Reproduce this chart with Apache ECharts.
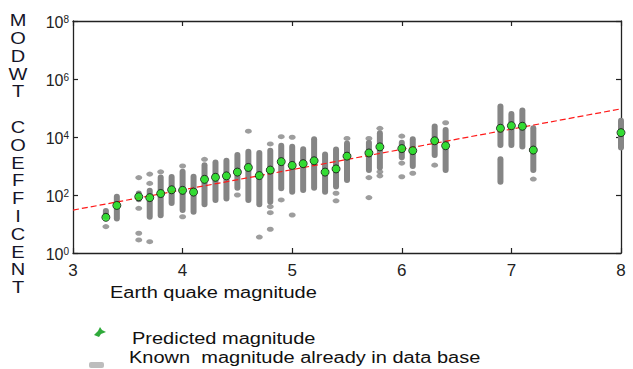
<!DOCTYPE html>
<html>
<head>
<meta charset="utf-8">
<script src="https://cdn.jsdelivr.net/npm/echarts@6/dist/echarts.min.js"></script>
<style>html,body{margin:0;padding:0;background:#fff;overflow:hidden}#c{position:absolute;left:0;top:0;width:633px;height:369px}</style>
</head>
<body>
<div id="c"></div>
<script>
// Predicted magnitude points (x = magnitude, exp = log10 of MODWT coefficient)
const predMag = [3.3,3.4,3.6,3.7,3.8,3.9,4.0,4.1,4.2,4.3,4.4,4.5,4.6,4.7,4.8,4.9,5.0,5.1,5.2,5.3,5.4,5.5,5.7,5.8,6.0,6.1,6.3,6.4,6.9,7.0,7.1,7.2,8.0];
const predExp = [1.23,1.64,1.94,1.91,2.05,2.18,2.16,2.10,2.54,2.61,2.66,2.79,2.95,2.67,2.86,3.15,3.02,3.08,3.18,2.79,2.90,3.34,3.45,3.66,3.60,3.53,3.87,3.70,4.30,4.39,4.37,3.55,4.15];

// Known magnitudes: dense vertical runs of points (low / high exponent)
const segMag = [3.3,3.4,3.6,3.7,3.8,3.9,4.0,4.1,4.2,4.3,4.4,4.5,4.6,4.7,4.8,4.9,5.0,5.1,5.2,5.3,5.4,5.5,5.7,5.8,6.0,6.1,6.3,6.4,6.9,6.9,7.0,7.1,7.2,8.0];
const segLo  = [1.25,1.19,1.85,1.25,1.30,1.72,1.48,1.42,1.68,1.83,1.88,2.25,1.83,1.68,1.77,2.23,2.11,2.17,2.25,2.11,2.29,2.52,2.86,2.95,3.30,3.00,3.38,2.86,3.72,2.46,3.72,3.67,2.86,3.64];
const segHi  = [1.45,1.94,2.05,2.15,2.60,2.62,2.80,2.63,3.03,3.12,3.18,3.38,3.49,3.45,3.53,3.70,3.66,3.58,3.92,3.40,3.57,3.78,3.80,4.13,3.80,3.92,4.36,4.24,5.05,3.23,4.79,4.91,4.30,4.56];

// Known magnitudes: isolated points
const outMag = [3.3,3.6,3.6,3.6,3.6,3.7,3.7,3.7,3.8,4.0,4.0,4.2,4.5,4.6,4.7,4.8,4.8,4.8,4.8,4.9,4.9,5.0,5.0,5.4,5.4,5.5,5.7,5.7,5.7,5.8,5.8,5.8,6.0,6.0,6.0,6.1,6.3,6.4,7.2];
const outExp = [0.91,2.60,1.54,0.68,0.45,2.72,2.40,0.39,2.80,3.00,1.25,3.23,2.00,4.20,0.55,3.76,1.60,1.39,0.82,4.01,1.83,3.99,1.31,2.06,1.80,3.95,3.95,2.60,1.91,4.30,2.80,2.66,4.03,3.10,2.63,2.75,3.03,4.49,2.55];

// Fitted trend line
const fitMag = [3, 8];
const fitExp = [1.48, 4.97];

const xTicks = [3,4,5,6,7,8];
const yTickExp = [0,2,4,6,8];

const p10 = e => Math.pow(10, e);
const predData = predMag.map((m,i)=>[m, p10(predExp[i])]);
const segData = segMag.map((m,i)=>[m, p10(segLo[i]), p10(segHi[i])]);
const outData = outMag.map((m,i)=>[m, p10(outExp[i])]);
const fitData = fitMag.map((m,i)=>[m, p10(fitExp[i])]);

const FONT = 'Liberation Sans, Arial, sans-serif';
const chart = echarts.init(document.getElementById('c'), null, {renderer:'svg'});

const axisCommon = () => ({
  axisLine:{show:true, onZero:false, lineStyle:{color:'#222', width:1.3}},
  axisTick:{show:true, inside:true, length:5, lineStyle:{color:'#222', width:1.2}},
  splitLine:{show:false}
});

chart.setOption({
  animation:false,
  backgroundColor:'#fff',
  grid:{left:73, right:12, top:21, bottom:116, containLabel:false},
  xAxis:[
    Object.assign({type:'value', min:xTicks[0], max:xTicks[xTicks.length-1], interval:1,
      axisLabel:{fontFamily:FONT, fontSize:17, color:'#222', margin:9}}, axisCommon()),
    Object.assign({type:'value', position:'top', min:xTicks[0], max:xTicks[xTicks.length-1], interval:1,
      axisLabel:{show:false}}, axisCommon())
  ],
  yAxis:[
    Object.assign({type:'log', logBase:10, min:p10(yTickExp[0]), max:p10(yTickExp[yTickExp.length-1]), interval:2,
      axisLabel:{margin:4, padding:[6,0,0,0], formatter: v => '{b|10}{s|' + Math.round(Math.log10(v)) + '}',
        rich:{b:{fontFamily:FONT, fontSize:16, color:'#222', lineHeight:20, verticalAlign:'top'},
              s:{fontFamily:FONT, fontSize:10, color:'#222', lineHeight:2, verticalAlign:'top'}}}}, axisCommon()),
    Object.assign({type:'log', logBase:10, position:'right', min:p10(yTickExp[0]), max:p10(yTickExp[yTickExp.length-1]), interval:2,
      axisLabel:{show:false}}, axisCommon())
  ],
  series:[
    {type:'custom', name:'Known runs', data:segData, clip:false, z:2,
      encode:{x:0, y:[1,2]},
      renderItem:(params, api)=>{
        const a = api.coord([api.value(0), api.value(1)]);
        const b = api.coord([api.value(0), api.value(2)]);
        return {type:'line', shape:{x1:a[0], y1:a[1], x2:b[0], y2:b[1]},
          style:{stroke:'#858585', lineWidth:6, lineCap:'round'}};
      }},
    {type:'scatter', name:'Known points', data:outData, clip:false, z:2,
      symbol:'circle', symbolSize:[7,5], itemStyle:{color:'#858585'}},
    {type:'line', name:'Fit', data:fitData, z:3, symbol:'none',
      lineStyle:{color:'#ff1a1a', width:1.2, type:[6,3]}},
    {type:'scatter', name:'Predicted', data:predData, clip:false, z:4,
      symbol:'circle', symbolSize:8, itemStyle:{color:'#1ef01e', borderColor:'#111', borderWidth:1}}
  ],
  graphic:[
    {type:'text', x:18, y:12, style:{text:'M\nO\nD\nW\nT\n\nC\nO\nE\nF\nF\nI\nC\nE\nN\nT', font:'16px '+FONT,
      fill:'#151528', textAlign:'center', textVerticalAlign:'top', lineHeight:17.8}, scaleX:1.25},
    {type:'text', x:110, y:293, scaleX:1.25, style:{text:'Earth quake magnitude', font:'16px '+FONT, fill:'#111', textAlign:'left', textVerticalAlign:'middle'}},
    {type:'polygon', shape:{points:[[94,335],[98,331],[100,327],[102,330],[106,332],[101,334],[99,337]]}, style:{fill:'#2faa3a'}},
    {type:'text', x:132, y:339, scaleX:1.25, style:{text:'Predicted magnitude', font:'16px '+FONT, fill:'#111', textAlign:'left', textVerticalAlign:'middle'}},
    {type:'rect', shape:{x:89, y:362, width:15, height:6, r:2}, style:{fill:'#bdbdbd'}},
    {type:'text', x:129, y:358, scaleX:1.25, style:{text:'Known  magnitude already in data base', font:'16px '+FONT, fill:'#111', textAlign:'left', textVerticalAlign:'middle'}}
  ]
});
</script>
</body>
</html>
